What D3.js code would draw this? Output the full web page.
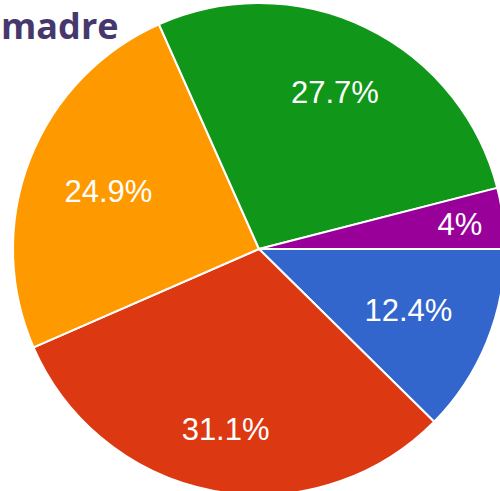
<!DOCTYPE html>
<html>
<head>
<meta charset="utf-8">
<script src="https://cdn.jsdelivr.net/npm/d3@7"></script>
<style>
  html, body { margin: 0; padding: 0; background: #fff; }
  svg { display: block; }
</style>
</head>
<body>
<script>
const w = 500;
const h = 491;

const categories = ['a', 'b', 'c', 'd', 'e'];
const values = [12.4, 31.1, 24.9, 27.7, 4];
const colors = ['#3366cc', '#dc3912', '#ff9900', '#109618', '#990099'];
const title = 'madre';

const cx = 259;
const cy = 249;
const radius = 246;

const svg = d3.select('body').append('svg')
  .attr('width', w)
  .attr('height', h)
  .attr('viewBox', [0, 0, w, h]);

const pie = d3.pie()
  .sort(null)
  .value(d => d.value)
  .startAngle(Math.PI / 2)
  .endAngle(Math.PI / 2 + 2 * Math.PI);

const slices = pie(categories.map((c, i) => ({ name: c, value: values[i], color: colors[i] })));

const arc = d3.arc().innerRadius(0).outerRadius(radius);

const g = svg.append('g').attr('transform', `translate(${cx},${cy})`);

g.selectAll('path.slice')
  .data(slices)
  .enter().append('path')
    .attr('class', 'slice')
    .attr('d', arc)
    .style('fill', d => d.data.color)
    .style('stroke', '#fff')
    .style('stroke-width', 2);

// labels: push outward along mid angle until the far corner of the text box hits the limit
const fontSize = 31;
const labels = g.selectAll('text.pct')
  .data(slices)
  .enter().append('text')
    .attr('class', 'pct')
    .attr('text-anchor', 'middle')
    .attr('dy', '0.36em')
    .style('font-family', 'Arial, "Liberation Sans", sans-serif')
    .style('font-size', fontSize + 'px')
    .style('fill', '#fff')
    .text(d => `${d.data.value}%`);

labels.each(function(d) {
  const bb = this.getBBox();
  const hw = bb.width / 2;
  const hh = fontSize * 0.36;
  const a = (d.startAngle + d.endAngle) / 2;
  const sx = Math.sin(a);
  const sy = -Math.cos(a);
  // thin slices get pushed further out
  const limit = radius * (d.endAngle - d.startAngle < 0.4 ? 0.92 : 0.84);
  let dist = 0;
  for (let t = 0; t < radius; t += 0.5) {
    const fx = Math.abs(t * sx) + hw;
    const fy = Math.abs(t * sy) + hh;
    if (Math.hypot(fx, fy) > limit) break;
    dist = t;
  }
  d3.select(this)
    .attr('x', dist * sx)
    .attr('y', dist * sy);
});

svg.append('text')
  .attr('x', 1)
  .attr('y', 39)
  .style('font-family', '"Open Sans", sans-serif')
  .style('font-weight', 700)
  .style('font-size', '36px')
  .style('fill', '#46386c')
  .text(title);
</script>
</body>
</html>
